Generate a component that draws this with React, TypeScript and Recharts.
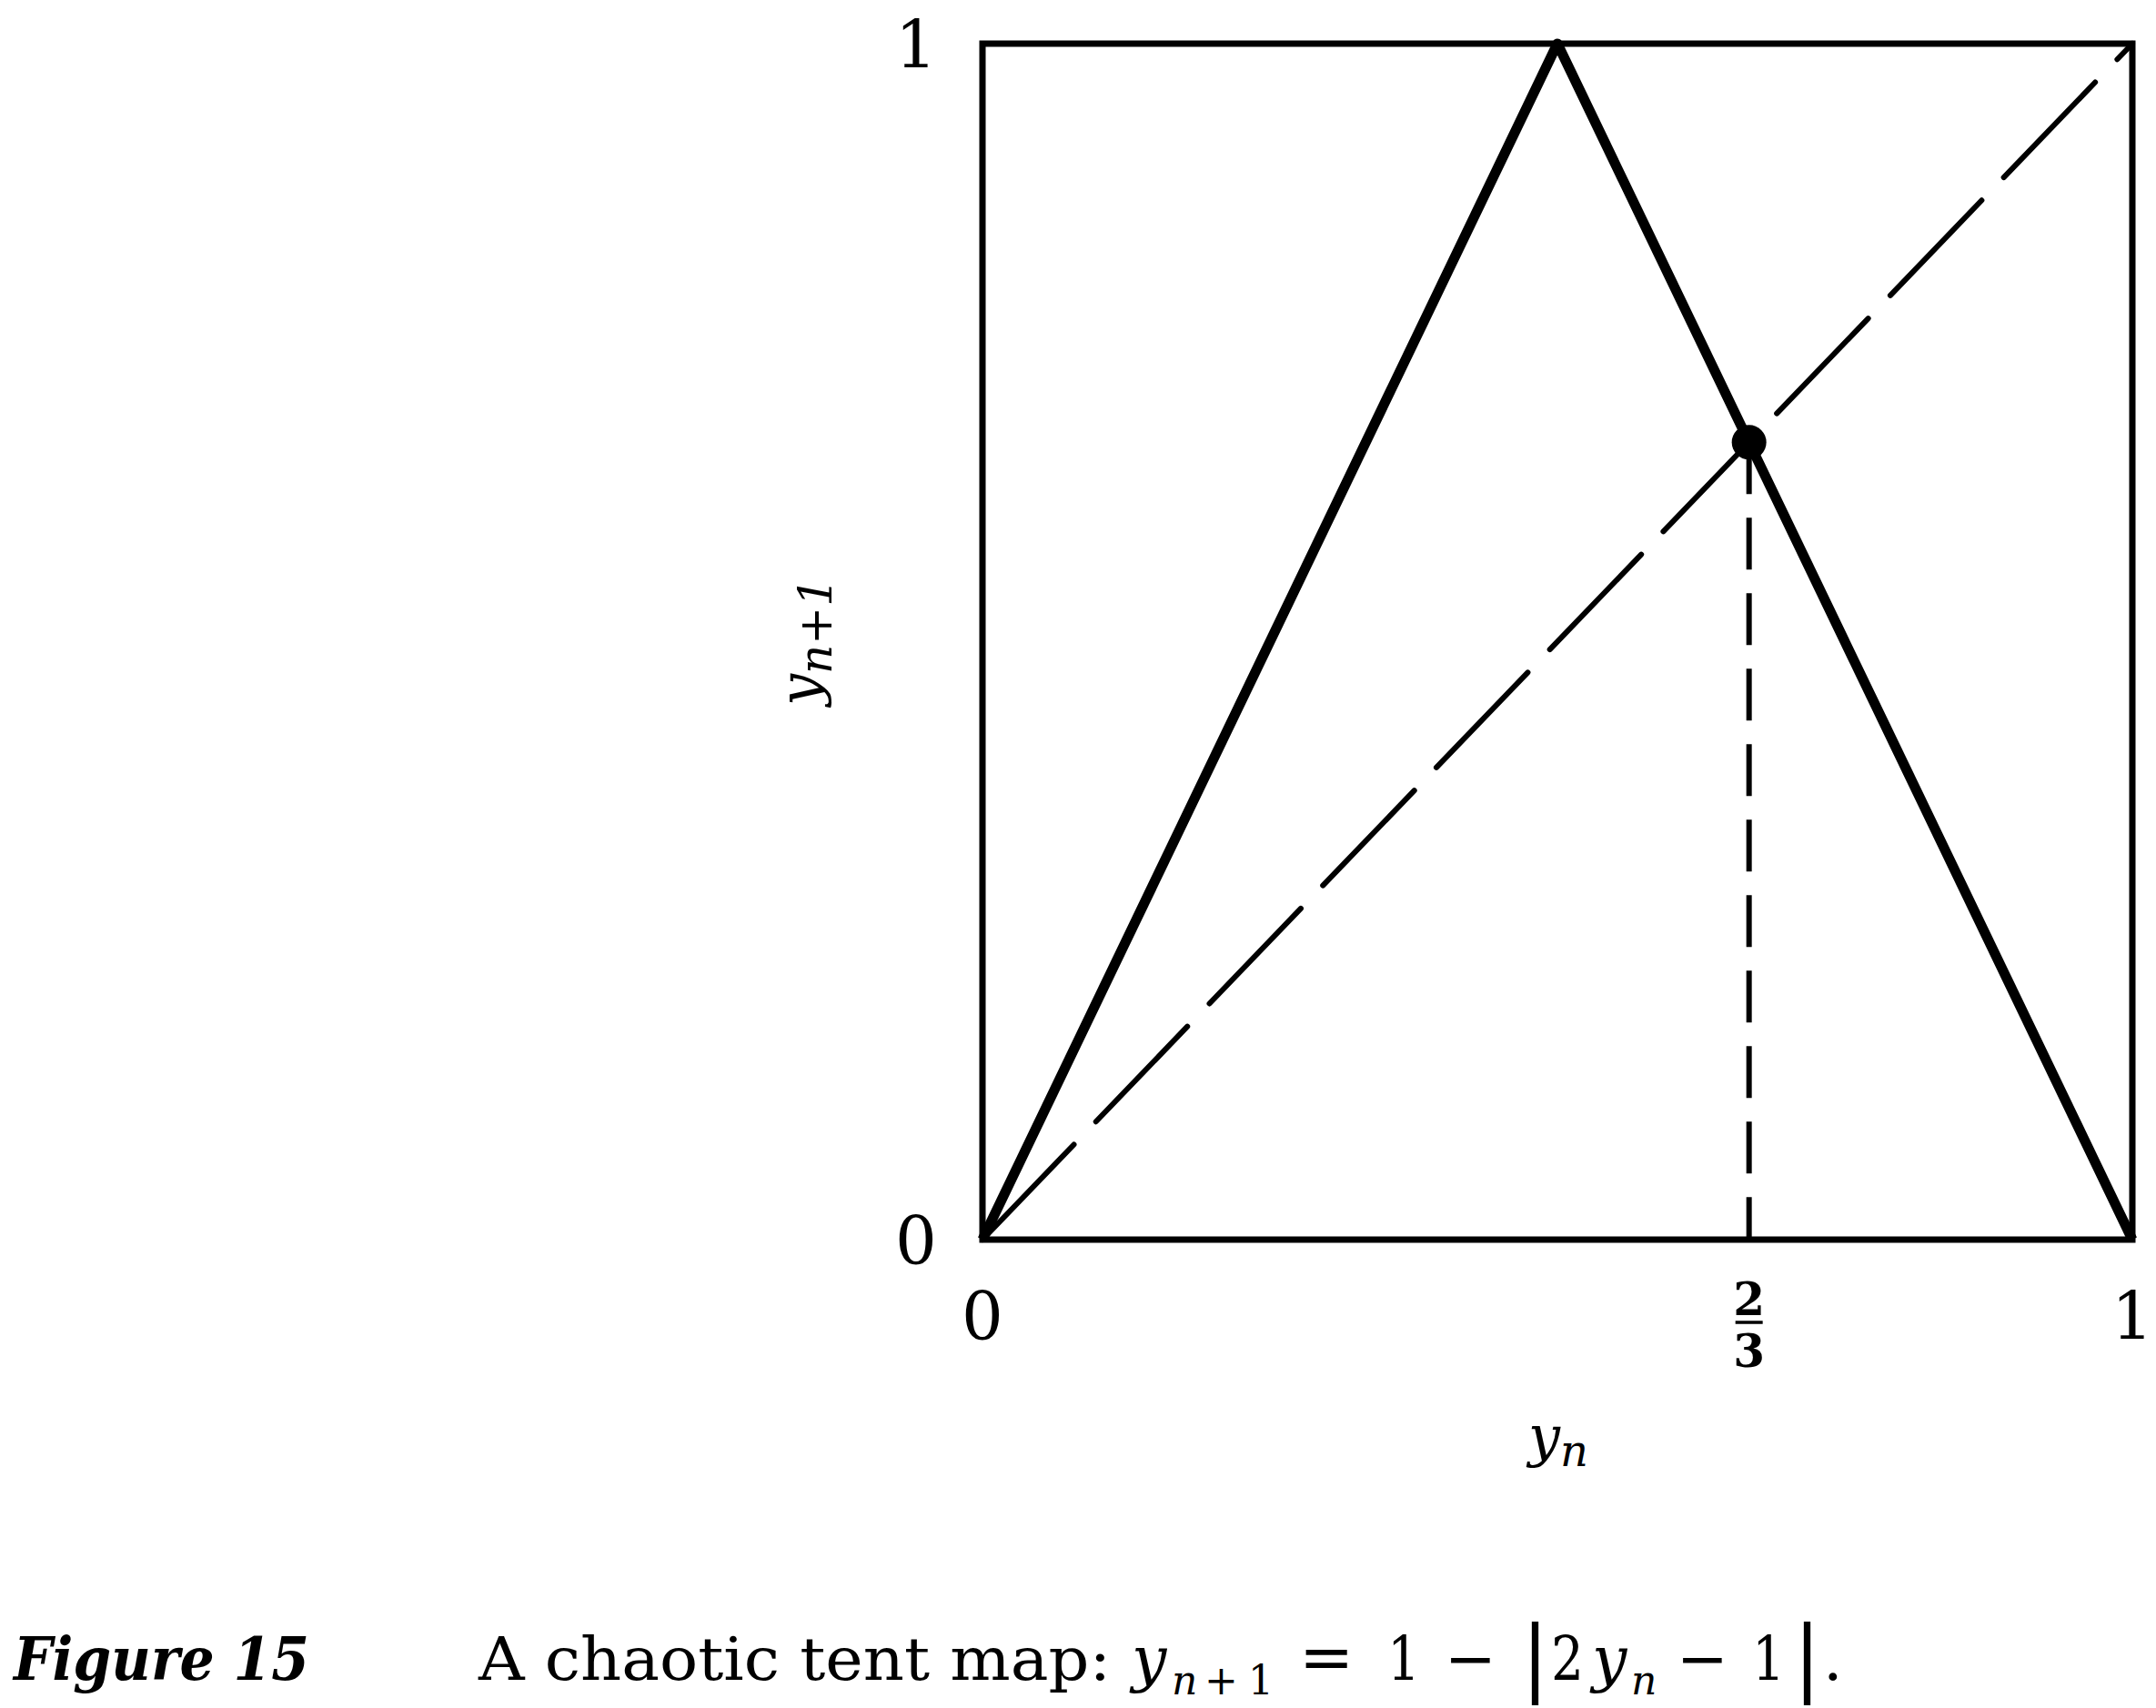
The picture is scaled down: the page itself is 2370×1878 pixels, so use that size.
import React from 'react';
import { ComposedChart, Line, XAxis, YAxis, ReferenceArea, ReferenceDot, Label } from 'recharts';

const serif = "'DejaVu Serif', serif";

// tick values on the two axes
const xTicks = [0, 2 / 3, 1];
const yTicks = [0, 1];

// tent map y(n+1) = 1 - |2y(n) - 1|
const tentMap = [
    { x: 0, y: 0 },
    { x: 0.5, y: 1 },
    { x: 1, y: 0 },
];
// y(n+1) = y(n)
const diagonal = [
    { x: 0, y: 0 },
    { x: 1, y: 1 },
];
const fixedPoint = { x: 2 / 3, y: 2 / 3 };
const dropLine = [
    { x: 2 / 3, y: 2 / 3 },
    { x: 2 / 3, y: 0 },
];

// caption pieces, left to right
const caption = [
    { t: 'Figure 15', x: 15, size: 66, bold: true, italic: true, len: 325 },
    { t: 'A chaotic tent map:', x: 526, size: 66, len: 695 },
    { t: 'y', x: 1244, size: 68, italic: true },
    { t: 'n', x: 1288, size: 44, italic: true, dy: 16 },
    { t: '+', x: 1324, size: 44, dy: 16 },
    { t: '1', x: 1372, size: 44, dy: 16 },
    { t: '=', x: 1428, size: 72 },
    { t: '1', x: 1525, size: 68, len: 36 },
    { t: '\u2212', x: 1588, size: 68 },
    { t: '|', x: 1672, size: 92, dy: 6 },
    { t: '2', x: 1705, size: 68, len: 36 },
    { t: 'y', x: 1750, size: 68, italic: true },
    { t: 'n', x: 1793, size: 44, italic: true, dy: 16 },
    { t: '\u2212', x: 1843, size: 68 },
    { t: '1', x: 1926, size: 68, len: 36 },
    { t: '|', x: 1971, size: 92, dy: 6 },
    { t: '.', x: 2004, size: 68 },
];

const XTick = ({ x, y, payload }: any) => {
    const v = payload.value;
    if (Math.abs(v - 2 / 3) < 1e-6) {
        return (
            <g>
                <text x={x} y={y + 83} textAnchor="middle" fontFamily={serif} fontWeight="bold" fontSize={50}>2</text>
                <line x1={x - 15} x2={x + 15} y1={y + 91} y2={y + 91} stroke="#000" strokeWidth={3.5} />
                <text x={x} y={y + 140} textAnchor="middle" fontFamily={serif} fontWeight="bold" fontSize={50}>3</text>
            </g>
        );
    }
    return (
        <text x={x} y={y + 110} textAnchor="middle" fontFamily={serif} fontSize={72}>{v}</text>
    );
};

const YTick = ({ x, y, payload }: any) => (
    <text x={x - 73} y={y + 27} textAnchor="middle" fontFamily={serif} fontSize={72}>{payload.value}</text>
);

const XLabel = ({ viewBox }: any) => (
    <text x={viewBox.x + viewBox.width / 2 - 32} y={viewBox.y + 237} fontFamily={serif} fontStyle="italic" fontSize={62}>
        y<tspan fontSize={48} dy={12}>n</tspan>
    </text>
);

const YLabel = ({ viewBox }: any) => {
    const cx = viewBox.x + viewBox.width - 180;
    const cy = viewBox.y + viewBox.height / 2;
    return (
        <text x={cx} y={cy} textAnchor="middle" transform={`rotate(-90, ${cx}, ${cy})`} fontFamily={serif} fontStyle="italic" fontSize={62}>
            y<tspan fontSize={50} dy={14}>n+1</tspan>
        </text>
    );
};

const TentMapChart = () => {
    return (
        <div style={{ position: 'absolute', left: 0, top: 0, width: 2370, height: 1878, background: '#fff' }}>
            <ComposedChart width={2370} height={1700} margin={{ top: 48, right: 26, left: 1000, bottom: 237 }}>
                <XAxis dataKey="x" type="number" domain={[0, 1]} ticks={xTicks} tick={<XTick />}
                    tickSize={0} tickMargin={0} tickLine={false} axisLine={false} height={100} allowDuplicatedCategory={false}>
                    <Label content={<XLabel />} />
                </XAxis>
                <YAxis dataKey="y" type="number" domain={[0, 1]} ticks={yTicks} tick={<YTick />}
                    tickSize={0} tickMargin={0} tickLine={false} axisLine={false} width={80}>
                    <Label content={<YLabel />} />
                </YAxis>
                <ReferenceArea x1={0} x2={1} y1={0} y2={1} fill="none" fillOpacity={0} stroke="#000" strokeWidth={7} />
                <Line data={diagonal} dataKey="y" type="linear" stroke="#000" strokeWidth={6}
                    strokeDasharray="145 35" strokeLinecap="round" dot={false} activeDot={false} isAnimationActive={false} />
                <Line data={dropLine} dataKey="y" type="linear" stroke="#000" strokeWidth={6}
                    strokeDasharray="57 26" dot={false} activeDot={false} isAnimationActive={false} />
                <Line data={tentMap} dataKey="y" type="linear" stroke="#000" strokeWidth={11}
                    strokeLinejoin="round" dot={false} activeDot={false} isAnimationActive={false} />
                <ReferenceDot x={fixedPoint.x} y={fixedPoint.y} r={19} fill="#000" stroke="none" />
            </ComposedChart>
            <svg width={2370} height={1878} style={{ position: 'absolute', left: 0, top: 0, pointerEvents: 'none' }}>
                {caption.map((c, i) => (
                    <text key={i} x={c.x} y={1847 + (c.dy || 0)} fontFamily={serif} fontSize={c.size}
                        fontWeight={c.bold ? 'bold' : 'normal'} fontStyle={c.italic ? 'italic' : 'normal'}
                        textLength={c.len} lengthAdjust={c.len ? 'spacingAndGlyphs' : undefined}>
                        {c.t}
                    </text>
                ))}
            </svg>
        </div>
    );
};

export default function App() {
    return <TentMapChart />;
}
